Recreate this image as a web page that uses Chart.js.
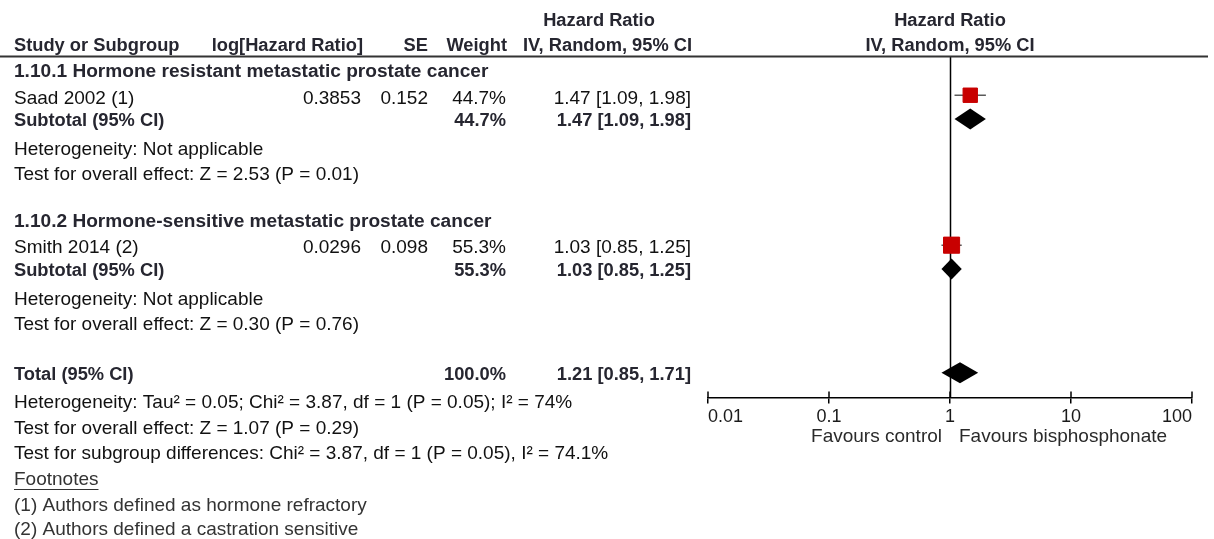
<!DOCTYPE html>
<html>
<head>
<meta charset="utf-8">
<title>Forest plot – bisphosphonates, hazard ratio</title>
<script src="https://cdn.jsdelivr.net/npm/chart.js@4/dist/chart.umd.min.js"></script>
<style>
  html, body { margin: 0; padding: 0; background: #fff; }
  canvas { display: block; }
</style>
</head>
<body>
<canvas id="forest" width="1214" height="539"></canvas>
<script>
// ---- Study rows ----
const studyNames  = ['Saad 2002 (1)', 'Smith 2014 (2)'];
const studyLogHR  = ['0.3853', '0.0296'];
const studySE     = ['0.152', '0.098'];
const studyWeight = [44.7, 55.3];
const studyHR     = [1.47, 1.03];
const studyLow    = [1.09, 0.85];
const studyHigh   = [1.98, 1.25];

// ---- Subgroups ----
const subgroupTitles = [
  '1.10.1 Hormone resistant metastatic prostate cancer',
  '1.10.2 Hormone-sensitive metastatic prostate cancer'
];
const subgroupWeight = [44.7, 55.3];
const subgroupHR     = [1.47, 1.03];
const subgroupLow    = [1.09, 0.85];
const subgroupHigh   = [1.98, 1.25];
const subgroupHeterogeneity = ['Heterogeneity: Not applicable', 'Heterogeneity: Not applicable'];
const subgroupEffect = [
  'Test for overall effect: Z = 2.53 (P = 0.01)',
  'Test for overall effect: Z = 0.30 (P = 0.76)'
];

// ---- Overall pooled estimate ----
const totalWeight = [100.0];
const totalHR     = [1.21];
const totalLow    = [0.85];
const totalHigh   = [1.71];
const totalNotes = [
  'Heterogeneity: Tau\u00B2 = 0.05; Chi\u00B2 = 3.87, df = 1 (P = 0.05); I\u00B2 = 74%',
  'Test for overall effect: Z = 1.07 (P = 0.29)',
  'Test for subgroup differences: Chi\u00B2 = 3.87, df = 1 (P = 0.05), I\u00B2 = 74.1%'
];
const footnoteTitle = 'Footnotes';
const footnotes = [
  '(1) Authors defined as hormone refractory',
  '(2) Authors defined a castration sensitive'
];

// ---- Axis ----
const axisTicks = [0.01, 0.1, 1, 10, 100];
const favourLabels = ['Favours control', 'Favours bisphosphonate'];
const columnHeaders = ['Study or Subgroup', 'log[Hazard Ratio]', 'SE', 'Weight', 'IV, Random, 95% CI'];
const effectTitle = ['Hazard Ratio', 'IV, Random, 95% CI'];

// ---- Layout (row slots; one slot = one text line) ----
const ROW_PX0 = 19.5, ROW_PITCH = 25.5;       // centre of first line, line pitch
const PLOT_TOP = 57, PLOT_BOTTOM = 397.5;       // forest panel band
const PLOT_LEFT = 708, PLOT_RIGHT = 1192;
const groupStart = [2, 7.88];
const groupOffsets = { title: 0, study: 1.05, subtotal: 1.95, het: 3.07, effect: 4.05 };
const totalRow = 13.9;
const totalNoteRows = [15.0, 16.0, 16.98];
const footnoteRows = [18.02, 19.02, 19.97];
const colX = { label: 14, logHR: 361, se: 428, weight: 506, ci: 691, headerCenter: 599 };

const FONT = '"Liberation Sans", Arial, Helvetica, sans-serif';
const fontN = (s) => `${s}px ${FONT}`;
const fontB = (s) => `bold ${s}px ${FONT}`;
const fmtW = (w) => w.toFixed(1) + '%';
const fmtCI = (m, l, h) => `${m.toFixed(2)} [${l.toFixed(2)}, ${h.toFixed(2)}]`;

const RED = '#C80000';
const DIAMOND_HALF_H = 10.5;

// square side grows with sqrt(weight)
const squareRadius = (w) => (2.3 * Math.sqrt(w) - 1) / Math.SQRT2;

const studyRows = studyNames.map((_, i) => groupStart[i] + groupOffsets.study - 0.08);
const subtotalRows = subgroupTitles.map((_, i) => groupStart[i] + groupOffsets.subtotal - 0.05);

// datasets: CI whiskers (lines) and weighted squares
const whiskerSets = studyNames.map((_, i) => ({
  type: 'line',
  data: [{ x: studyLow[i], y: studyRows[i] }, { x: studyHigh[i], y: studyRows[i] }],
  borderColor: '#5a5a5a',
  borderWidth: 1.5,
  pointRadius: 0,
  fill: false,
  order: 3
}));

const squareSet = {
  type: 'scatter',
  data: studyNames.map((_, i) => ({ x: studyHR[i], y: studyRows[i] })),
  pointStyle: 'rect',
  pointRadius: studyWeight.map(squareRadius),
  pointBackgroundColor: RED,
  pointBorderColor: RED,
  pointBorderWidth: 1,
  order: 1
};

const diamonds = [
  ...subgroupTitles.map((_, i) => ({ m: subgroupHR[i], l: subgroupLow[i], h: subgroupHigh[i], row: subtotalRows[i] })),
  { m: totalHR[0], l: totalLow[0], h: totalHigh[0], row: totalRow - 0.05 }
];

const whiteBg = {
  id: 'whiteBg',
  beforeDraw(chart) {
    const c = chart.ctx;
    c.save(); c.fillStyle = '#fff'; c.fillRect(0, 0, chart.width, chart.height); c.restore();
  }
};

const forestFrame = {
  id: 'forestFrame',
  beforeDatasetsDraw(chart) {
    const { ctx, chartArea, scales: { x } } = chart;
    ctx.save();
    // line of no effect
    const x1 = Math.round(x.getPixelForValue(1)) + 0.5;
    ctx.strokeStyle = '#000';
    ctx.lineWidth = 1.5;
    ctx.beginPath();
    ctx.moveTo(x1, chartArea.top);
    ctx.lineTo(x1, chartArea.bottom);
    ctx.stroke();
    // upper halves of axis tick marks
    axisTicks.forEach(t => {
      const px = x.getPixelForValue(t);
      ctx.beginPath();
      ctx.moveTo(px, chartArea.bottom);
      ctx.lineTo(px, chartArea.bottom - 6);
      ctx.stroke();
    });
    ctx.restore();
  },
  afterDatasetsDraw(chart) {
    const { ctx, scales: { x, y } } = chart;
    ctx.save();
    ctx.fillStyle = '#000';
    diamonds.forEach(d => {
      const py = y.getPixelForValue(d.row);
      ctx.beginPath();
      ctx.moveTo(x.getPixelForValue(d.l), py);
      ctx.lineTo(x.getPixelForValue(d.m), py - DIAMOND_HALF_H);
      ctx.lineTo(x.getPixelForValue(d.h), py);
      ctx.lineTo(x.getPixelForValue(d.m), py + DIAMOND_HALF_H);
      ctx.closePath();
      ctx.fill();
    });
    ctx.restore();
  }
};

const tableText = {
  id: 'tableText',
  afterDraw(chart) {
    const { ctx, chartArea, scales: { x, y } } = chart;
    const rowY = (r) => y.getPixelForValue(r) + 1;
    const put = (txt, px, r, align, font, color) => {
      ctx.font = font;
      ctx.textAlign = align;
      ctx.fillStyle = color || '#111';
      ctx.fillText(txt, px, r > 50 ? r : rowY(r));
    };
    ctx.save();
    ctx.textBaseline = 'middle';
    const NB = 19.0, BB = 18.3, HB = 19.1;
    const hdr = '#262630';

    // column headers
    put(effectTitle[0], colX.headerCenter, 0, 'center', fontB(BB), hdr);
    const plotMid = (chartArea.left + chartArea.right) / 2;
    put(effectTitle[0], plotMid, 0, 'center', fontB(BB), hdr);
    put(columnHeaders[0], colX.label, 1, 'left', fontB(BB), hdr);
    put(columnHeaders[1], colX.logHR + 2, 1, 'right', fontB(BB), hdr);
    put(columnHeaders[2], colX.se, 1, 'right', fontB(BB), hdr);
    put(columnHeaders[3], colX.weight + 1, 1, 'right', fontB(BB), hdr);
    put(columnHeaders[4], colX.ci + 1, 1, 'right', fontB(BB), hdr);
    put(effectTitle[1], plotMid, 1, 'center', fontB(BB), hdr);

    // header rule
    const ruleY = chartArea.top - 0.5;
    ctx.strokeStyle = '#333';
    ctx.lineWidth = 2;
    ctx.beginPath();
    ctx.moveTo(0, ruleY);
    ctx.lineTo(1208, ruleY);
    ctx.stroke();

    // subgroups
    subgroupTitles.forEach((title, i) => {
      const s = groupStart[i];
      put(title, colX.label, s + groupOffsets.title, 'left', fontB(HB), hdr);
      const r = s + groupOffsets.study;
      put(studyNames[i], colX.label, r, 'left', fontN(NB));
      put(studyLogHR[i], colX.logHR, r, 'right', fontN(NB));
      put(studySE[i], colX.se, r, 'right', fontN(NB));
      put(fmtW(studyWeight[i]), colX.weight, r, 'right', fontN(NB));
      put(fmtCI(studyHR[i], studyLow[i], studyHigh[i]), colX.ci, r, 'right', fontN(NB));
      const sr = s + groupOffsets.subtotal;
      put('Subtotal (95% CI)', colX.label, sr, 'left', fontB(BB), hdr);
      put(fmtW(subgroupWeight[i]), colX.weight, sr, 'right', fontB(BB), hdr);
      put(fmtCI(subgroupHR[i], subgroupLow[i], subgroupHigh[i]), colX.ci, sr, 'right', fontB(BB), hdr);
      put(subgroupHeterogeneity[i], colX.label, s + groupOffsets.het, 'left', fontN(NB));
      put(subgroupEffect[i], colX.label, s + groupOffsets.effect, 'left', fontN(NB));
    });

    // total
    put('Total (95% CI)', colX.label, totalRow, 'left', fontB(BB), hdr);
    put(fmtW(totalWeight[0]), colX.weight, totalRow, 'right', fontB(BB), hdr);
    put(fmtCI(totalHR[0], totalLow[0], totalHigh[0]), colX.ci, totalRow, 'right', fontB(BB), hdr);
    totalNotes.forEach((t, i) => put(t, colX.label, totalNoteRows[i], 'left', fontN(NB)));

    // footnotes
    put(footnoteTitle, colX.label, footnoteRows[0], 'left', fontN(NB), '#333');
    ctx.font = fontN(NB);
    const fw = ctx.measureText(footnoteTitle).width;
    const uy = Math.round(rowY(footnoteRows[0]) + 9) + 0.5;
    ctx.strokeStyle = '#333';
    ctx.lineWidth = 1;
    ctx.beginPath();
    ctx.moveTo(colX.label, uy);
    ctx.lineTo(colX.label + fw, uy);
    ctx.stroke();
    footnotes.forEach((t, i) => put(t, colX.label, footnoteRows[i + 1], 'left', fontN(NB), '#333'));

    // favours labels
    const one = x.getPixelForValue(1);
    const favY = 437;
    put(favourLabels[0], one - 8, favY, 'right', fontN(NB), '#2a2a2a');
    put(favourLabels[1], one + 9, favY, 'left', fontN(NB), '#2a2a2a');
    ctx.restore();
  }
};

const AXIS_H = 40;
const yMin = (PLOT_TOP - ROW_PX0) / ROW_PITCH;
const yMax = (PLOT_BOTTOM - ROW_PX0) / ROW_PITCH;

new Chart(document.getElementById('forest'), {
  type: 'scatter',
  data: { datasets: [...whiskerSets, squareSet] },
  options: {
    responsive: false,
    animation: false,
    events: [],
    layout: {
      padding: {
        left: PLOT_LEFT,
        right: 1214 - PLOT_RIGHT,
        top: PLOT_TOP,
        bottom: 539 - PLOT_BOTTOM - AXIS_H
      }
    },
    plugins: { legend: { display: false }, tooltip: { enabled: false } },
    scales: {
      x: {
        type: 'logarithmic',
        position: 'bottom',
        min: axisTicks[0],
        max: axisTicks[axisTicks.length - 1],
        afterBuildTicks(scale) { scale.ticks = axisTicks.map(v => ({ value: v })); },
        afterFit(scale) { scale.height = AXIS_H; },
        ticks: {
          align: 'inner',
          autoSkip: false,
          maxRotation: 0,
          padding: 3,
          color: '#1a1a1a',
          font: { family: FONT, size: 18 },
          callback: (v) => String(v)
        },
        grid: { drawOnChartArea: false, drawTicks: true, tickLength: 6, color: '#000', lineWidth: 1.5 },
        border: { display: true, color: '#000', width: 1.5 }
      },
      y: {
        type: 'linear',
        display: false,
        reverse: true,
        min: yMin,
        max: yMax
      }
    }
  },
  plugins: [whiteBg, forestFrame, tableText]
});
</script>
</body>
</html>
